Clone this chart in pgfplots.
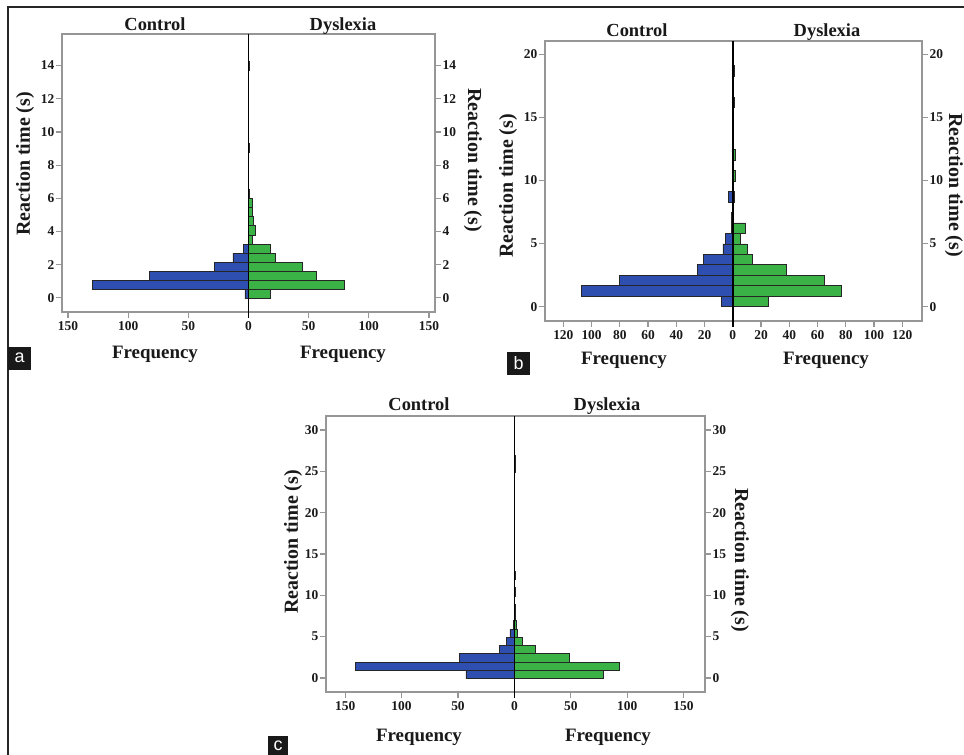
\documentclass[border=0pt]{standalone}
\usepackage{fontspec}
\setmainfont{Liberation Serif}
\newfontfamily\sansf{Liberation Sans}
\usepackage{pgfplots}
\usepackage{pgfplotstable}
\pgfplotsset{compat=1.18}
\definecolor{cblue}{RGB}{46,78,176}
\definecolor{cgreen}{RGB}{58,178,70}
\definecolor{axgray}{RGB}{150,150,150}

% panel a: bin width 0.55
\pgfplotstableread{
y ctrl dys
0.22 3 18
0.77 130 80
1.32 82 56
1.87 28 45
2.42 13 22
2.97 4 18
3.52 0 3
4.07 0 6
4.62 0 4
5.17 0 3
5.72 0 3
6.27 0 1
9.02 0 1
13.97 0 1
}\dataA
% panel b: bin width 0.83
\pgfplotstableread{
y ctrl dys
0.415 8 25
1.245 107 77
2.075 80 65
2.905 25 38
3.735 21 14
4.565 7 10
5.395 5 5
6.225 1 9
7.055 1 0
8.715 3 1
10.375 0 2
12.035 0 2
16.185 0 1
18.675 0 1
}\dataB
% panel c: bin width 1
\pgfplotstableread{
y ctrl dys
0.42 43 79
1.42 141 93
2.42 49 49
3.42 13 19
4.42 7 7
5.42 4 3
6.42 1 2
7.42 0 1
8.42 0 1
10.42 0 1
12.42 0 1
25.42 0 1
26.42 0 1
}\dataC

\pgfplotsset{
  pyr/.style={
    scale only axis,
    anchor=north west,
    axis line style={draw=axgray, line width=1.3bp},
    tick style={draw=axgray, line width=1.2bp},
    major tick length=6bp,
    tick align=outside,
    ticklabel style={font=\bfseries\fontsize{13.5}{13.5}\selectfont, text=black!90},
    yticklabel style={inner sep=1.5pt},
    /pgf/number format/assume math mode=true,
    clip=false,
  },
  ctrlbar/.style={xbar, bar shift=0pt, fill=cblue, draw=black!85, line width=0.7bp},
  dysbar/.style={xbar, bar shift=0pt, fill=cgreen, draw=black!85, line width=0.7bp},
}
\tikzset{
  ttl/.style={font=\bfseries\fontsize{18.5}{18.5}\selectfont, text=black!90, anchor=base},
  lab/.style={font=\bfseries\fontsize{19}{19}\selectfont, text=black!90},
  ylab/.style={font=\bfseries\fontsize{20}{20}\selectfont, text=black!90},
  letter/.style={font=\sansf\fontsize{18}{18}\selectfont, text=white},
}

\begin{document}
\begin{tikzpicture}
\useasboundingbox (0,0) rectangle (964bp,755bp);
\fill[white] (0,0) rectangle (964bp,755bp);
\draw[black!85, line width=1.5bp] (8bp,0) -- (8bp,748bp) -- (964bp,748bp);

% ---------------- panel a ----------------
\begin{axis}[pyr, at={(62bp,721bp)}, width=373bp, height=278bp,
  xmin=-155, xmax=155, ymin=-0.85, ymax=15.9,
  xtick={-150,-100,-50,0,50,100,150}, xticklabels={150,100,50,0,50,100,150},
  ytick={0,2,...,14}, xtick pos=bottom, ytick pos=left]
\addplot[ctrlbar, bar width=0.55] table[x expr=-\thisrow{ctrl}, y=y]{\dataA};
\addplot[dysbar, bar width=0.55] table[x=dys, y=y]{\dataA};
\draw[black, line width=1.4bp] (axis cs:0,15.9) -- ([yshift=-6bp]axis cs:0,-0.85);
\end{axis}
\begin{axis}[pyr, at={(62bp,721bp)}, width=373bp, height=278bp,
  xmin=-155, xmax=155, ymin=-0.85, ymax=15.9,
  axis x line=none, axis y line*=right, ytick={0,2,...,14}]
\end{axis}
\node[ttl] at (155bp,724bp) {Control};
\node[ttl] at (343bp,724bp) {Dyslexia};
\node[lab, anchor=base] at (155bp,396bp) {Frequency};
\node[lab, anchor=base] at (343bp,396bp) {Frequency};
\node[ylab, rotate=90] at (25bp,591bp) {Reaction time (s)};
\node[ylab, rotate=-90] at (473bp,595bp) {Reaction time (s)};
\fill[black!90] (8bp,408bp) rectangle (31bp,385bp);
\node[letter] at (19.5bp,397bp) {a};

% ---------------- panel b ----------------
\begin{axis}[pyr, at={(545bp,714bp)}, width=377bp, height=280bp,
  xmin=-133, xmax=134, ymin=-1.13, ymax=21.05,
  xtick={-120,-100,...,120}, xticklabels={120,100,80,60,40,20,0,20,40,60,80,100,120},
  ytick={0,5,...,20}, xtick pos=bottom, ytick pos=left]
\addplot[ctrlbar, bar width=0.83] table[x expr=-\thisrow{ctrl}, y=y]{\dataB};
\addplot[dysbar, bar width=0.83] table[x=dys, y=y]{\dataB};
\draw[black, line width=1.4bp] (axis cs:0,21.05) -- ([yshift=-6bp]axis cs:0,-1.13);
\end{axis}
\begin{axis}[pyr, at={(545bp,714bp)}, width=377bp, height=280bp,
  xmin=-133, xmax=134, ymin=-1.13, ymax=21.05,
  axis x line=none, axis y line*=right, ytick={0,5,...,20}]
\end{axis}
\node[ttl] at (637bp,718.5bp) {Control};
\node[ttl] at (827bp,718.5bp) {Dyslexia};
\node[lab, anchor=base] at (624bp,390bp) {Frequency};
\node[lab, anchor=base] at (826bp,390bp) {Frequency};
\node[ylab, rotate=90] at (508bp,569bp) {Reaction time (s)};
\node[ylab, rotate=-90] at (954bp,570bp) {Reaction time (s)};
\fill[black!90] (507bp,403bp) rectangle (530bp,380bp);
\node[letter] at (518.5bp,392bp) {b};

% ---------------- panel c ----------------
\begin{axis}[pyr, at={(326bp,339bp)}, width=379bp, height=276bp,
  xmin=-167, xmax=169, ymin=-1.7, ymax=31.7,
  xtick={-150,-100,-50,0,50,100,150}, xticklabels={150,100,50,0,50,100,150},
  ytick={0,5,...,30}, xtick pos=bottom, ytick pos=left]
\addplot[ctrlbar, bar width=1] table[x expr=-\thisrow{ctrl}, y=y]{\dataC};
\addplot[dysbar, bar width=1] table[x=dys, y=y]{\dataC};
\draw[black, line width=1.4bp] (axis cs:0,31.7) -- ([yshift=-6bp]axis cs:0,-1.7);
\end{axis}
\begin{axis}[pyr, at={(326bp,339bp)}, width=379bp, height=276bp,
  xmin=-167, xmax=169, ymin=-1.7, ymax=31.7,
  axis x line=none, axis y line*=right, ytick={0,5,...,30}]
\end{axis}
\node[ttl] at (419bp,344bp) {Control};
\node[ttl] at (607bp,344bp) {Dyslexia};
\node[lab, anchor=base] at (419bp,13.3bp) {Frequency};
\node[lab, anchor=base] at (608bp,13.3bp) {Frequency};
\node[ylab, rotate=90] at (293bp,213bp) {Reaction time (s)};
\node[ylab, rotate=-90] at (740bp,195bp) {Reaction time (s)};
\fill[black!90] (268bp,19bp) rectangle (288bp,0bp);
\node[letter] at (278bp,9.5bp) {c};
\end{tikzpicture}
\end{document}
